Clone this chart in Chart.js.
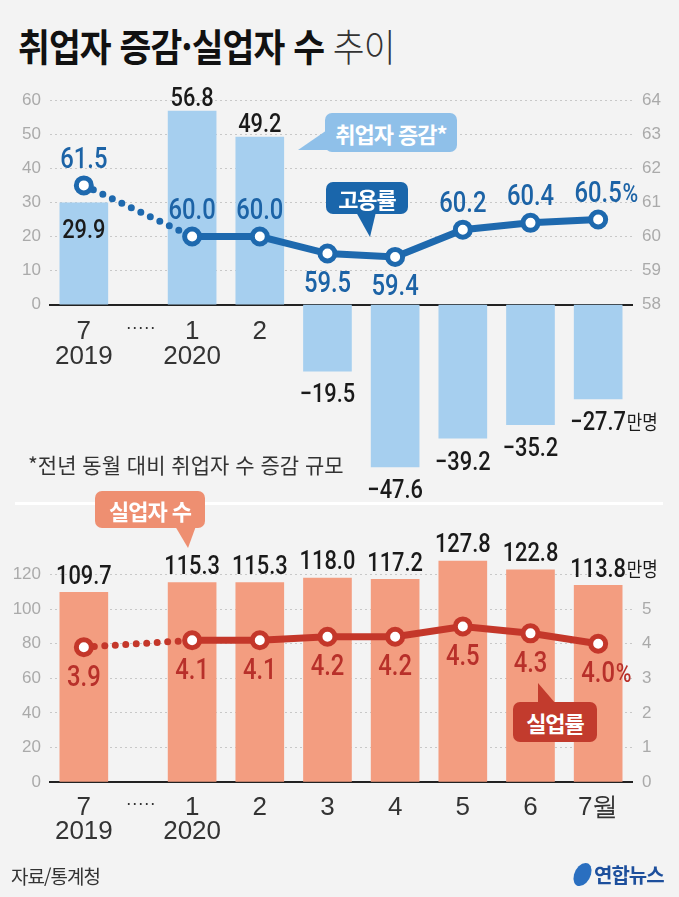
<!DOCTYPE html>
<html lang="ko">
<head>
<meta charset="utf-8">
<script src="https://cdn.jsdelivr.net/npm/chart.js@4.4.1/dist/chart.umd.min.js"></script>
<style>
  html, body { margin: 0; padding: 0; }
  body {
    width: 679px; height: 897px; position: relative; overflow: hidden;
    background: #f3f3f3; font-family: 'Noto Sans CJK KR', sans-serif;
  }
  .title {
    position: absolute; left: 18px; top: 19px; font-size: 38px; line-height: 52px;
    color: #111; white-space: nowrap; letter-spacing: -1px;
    transform: scaleX(0.91); transform-origin: left center;
  }
  .title b { font-weight: 700; }
  .title span { font-weight: 300; color: #333; }
  canvas { position: absolute; left: 0; }
  #top-chart { top: 80px; }
  #bottom-chart { top: 484px; }
  .sep { position: absolute; left: 15px; top: 502px; width: 648px; height: 3px; background: #fff; }
  .bubble {
    position: absolute; color: #fff; font-weight: 700; font-size: 22px; letter-spacing: -1px;
    display: flex; align-items: center; justify-content: center; border-radius: 7px; z-index: 2;
  }
  .tail { position: absolute; z-index: 2; }
  .note { position: absolute; left: 28px; top: 449px; font-size: 21px; color: #333; white-space: nowrap; }
  .source { position: absolute; left: 11px; top: 862px; font-size: 19px; color: #333; letter-spacing: -1px; }
  .logo { position: absolute; left: 574px; top: 860px; display: flex; align-items: center; }
  .logo i { display: block; width: 17px; height: 23px; border-radius: 50%; background: #2a6fc0; transform: skewX(-15deg); margin-right: 3px; }
  .logo span { font-size: 20px; font-weight: 700; color: #1d4f9c; letter-spacing: -1px; }
</style>
</head>
<body>
<div class="title"><b>취업자 증감·실업자 수</b> <span>추이</span></div>

<canvas id="top-chart" width="679" height="420"></canvas>
<div class="sep"></div>
<canvas id="bottom-chart" width="679" height="380"></canvas>

<div class="tail" style="left:298px;top:128px;width:32px;height:22px;background:#8fc0e9;clip-path:polygon(100% 0,100% 100%,0 100%);"></div>
<div class="bubble" style="left:325px;top:113px;width:132px;height:39px;background:#8fc0e9;">취업자 증감*</div>

<div class="tail" style="left:356px;top:212px;width:20px;height:25px;background:#1a66ab;clip-path:polygon(0 0,100% 0,70% 100%);"></div>
<div class="bubble" style="left:326px;top:182px;width:82px;height:32px;background:#1a66ab;">고용률</div>

<div class="tail" style="left:175px;top:526px;width:21px;height:22px;background:#ee8f71;clip-path:polygon(0 0,100% 0,62% 100%);"></div>
<div class="bubble" style="left:95px;top:491px;width:110px;height:37px;background:#ee8f71;">실업자 수</div>

<div class="tail" style="left:538px;top:683px;width:18px;height:21px;background:#c23b2d;clip-path:polygon(0 0,100% 100%,0 100%);"></div>
<div class="bubble" style="left:513px;top:702px;width:84px;height:40px;background:#c23b2d;">실업률</div>

<div class="note">*전년 동월 대비 취업자 수 증감 규모</div>
<div class="source">자료/통계청</div>
<div class="logo"><i></i><span>연합뉴스</span></div>

<script>
// months: 2019-07, then 2020-01 ~ 2020-07 (gap between first two slots is wider)
const SLOTS = [0, 1.6, 2.6, 3.6, 4.6, 5.6, 6.6, 7.6];
const TICK_POS = [0, 0.84, 1.6, 2.6, 3.6, 4.6, 5.6, 6.6, 7.6];
const TICK_LABELS = [['7', '2019'], '·····', ['1', '2020'], '2', '3', '4', '5', '6', '7월'];

const JOB_CHANGE = [29.9, 56.8, 49.2, -19.5, -47.6, -39.2, -35.2, -27.7];   // 만명
const EMP_RATE = [61.5, 60.0, 60.0, 59.5, 59.4, 60.2, 60.4, 60.5];         // %
const UNEMPLOYED = [109.7, 115.3, 115.3, 118.0, 117.2, 127.8, 122.8, 113.8]; // 만명
const UNEMP_RATE = [3.9, 4.1, 4.1, 4.2, 4.2, 4.5, 4.3, 4.0];               // %

const NUM_FONT = "'Liberation Sans', Arial, sans-serif";
const LABEL_FONT = "Roboto, 'Liberation Sans', sans-serif";
const KR_FONT = "'Noto Sans CJK KR', sans-serif";

const points = values => values.map((y, i) => ({ x: SLOTS[i], y }));

function fmtNum(v) {
  return v < 0 ? '\u2212' + Math.abs(v).toFixed(1) : v.toFixed(1);
}

// number centred on x, squeezed sideways like the condensed newsroom font,
// with an optional unit hanging off its right side
function drawValue(ctx, v, x, cy, color, size, sx, unit, unitFont) {
  const text = fmtNum(v);
  ctx.save();
  ctx.translate(x, cy + size * 0.36);
  ctx.scale(sx, 1);
  ctx.font = `500 ${size}px ${LABEL_FONT}`;
  ctx.fillStyle = color;
  ctx.textAlign = 'center';
  ctx.textBaseline = 'alphabetic';
  ctx.fillText(text, 0, 0);
  if (unit) {
    const w = ctx.measureText(text).width;
    ctx.font = unitFont;
    ctx.textAlign = 'left';
    ctx.fillText(unit, w / 2 + 1, 0);
  }
  ctx.restore();
}

const valueLabels = {
  id: 'valueLabels',
  afterDraw(chart, args, opts) {
    const ctx = chart.ctx;
    const barMeta = chart.getDatasetMeta(1);
    const lineMeta = chart.getDatasetMeta(0);
    const barVals = chart.data.datasets[1].data;
    const lineVals = chart.data.datasets[0].data;
    const last = barVals.length - 1;

    barMeta.data.forEach((el, i) => {
      const v = barVals[i].y;
      let cy;
      if (opts.barInside.includes(i)) cy = el.y + 26;
      else cy = v < 0 ? el.y + 22 : el.y - opts.barGap;
      drawValue(ctx, v, el.x, cy, '#1a1a1a', 26, 0.84,
        i === last ? '만명' : null, `20px ${KR_FONT}`);
    });

    lineMeta.data.forEach((el, i) => {
      const v = lineVals[i].y;
      const cy = opts.lineBelow.includes(i) ? el.y + 28 : el.y - 28;
      drawValue(ctx, v, el.x, cy, opts.lineLabel, 29, 0.82,
        i === last ? '%' : null, `500 26px ${LABEL_FONT}`);
    });
  }
};

function lineSet(values, color) {
  return {
    type: 'line',
    data: points(values),
    yAxisID: 'y1',
    order: 0,
    borderColor: color,
    borderWidth: 7,
    borderCapStyle: 'round',
    tension: 0,
    pointRadius: 7.5,
    pointBorderWidth: 5,
    pointBorderColor: color,
    pointBackgroundColor: '#ffffff',
    segment: { borderDash: c => c.p0DataIndex === 0 ? [0, 10.5] : undefined },
  };
}

function barSet(values, color) {
  return {
    type: 'bar',
    data: points(values),
    yAxisID: 'y',
    order: 1,
    backgroundColor: color,
    barThickness: 48,
  };
}

function xScale(pad) {
  return {
    type: 'linear',
    position: { y: 0 },
    min: -0.5, max: 8.1,
    offset: false,
    z: 1,
    grid: { display: false, offset: false },
    border: { color: '#222', width: 2 },
    afterBuildTicks: s => { s.ticks = TICK_POS.map(value => ({ value })); },
    ticks: {
      autoSkip: false, maxRotation: 0, padding: pad,
      color: '#333',
      font: c => ({ family: NUM_FONT, size: c.index === 1 ? 18 : 26, lineHeight: 0.95 }),
      callback: (v, i) => TICK_LABELS[i],
    },
  };
}

function yLeft(min, max, step, top) {
  return {
    position: 'left', min, max,
    afterFit: s => { s.width = 50; },
    border: { display: false, dash: [2, 3] },
    grid: { drawTicks: false, color: c => (c.tick.value > 0 && c.tick.value <= top) ? '#c8c8c8' : 'transparent' },
    ticks: {
      stepSize: step, padding: 9, color: '#aaa',
      font: { family: NUM_FONT, size: 17 },
      callback: v => (v >= 0 && v <= top) ? v : '',
    },
  };
}

function yRight(min, max, lo, hi) {
  return {
    position: 'right', min, max,
    afterFit: s => { s.width = 47; },
    border: { display: false },
    grid: { drawOnChartArea: false, drawTicks: false },
    ticks: {
      stepSize: 1, padding: 10, color: '#aaa',
      font: { family: NUM_FONT, size: 17 },
      callback: v => (v >= lo && v <= hi) ? v : '',
    },
  };
}

const common = {
  responsive: false,
  animation: false,
  events: [],
  plugins: { legend: { display: false }, tooltip: { enabled: false } },
};

new Chart(document.getElementById('top-chart'), {
  data: { datasets: [lineSet(EMP_RATE, '#1e69ae'), barSet(JOB_CHANGE, '#a6cfef')] },
  plugins: [valueLabels],
  options: {
    ...common,
    layout: { padding: { top: 17, bottom: 25, left: 0, right: 0 } },
    plugins: {
      ...common.plugins,
      valueLabels: { barInside: [0], barGap: 14, lineBelow: [3, 4], lineLabel: '#1c63a6' },
    },
    scales: {
      x: xScale(7),
      y: yLeft(-50, 60, 10, 60),
      y1: yRight(53, 64, 58, 64),
    },
  },
});

new Chart(document.getElementById('bottom-chart'), {
  data: { datasets: [lineSet(UNEMP_RATE, '#c4372a'), barSet(UNEMPLOYED, '#f39d80')] },
  plugins: [valueLabels],
  options: {
    ...common,
    layout: { padding: { top: 56, bottom: 82, left: 0, right: 0 } },
    plugins: {
      ...common.plugins,
      valueLabels: { barInside: [], barGap: 18, lineBelow: [0, 1, 2, 3, 4, 5, 6, 7], lineLabel: '#b8302a' },
    },
    scales: {
      x: xScale(5),
      y: yLeft(0, 140, 20, 120),
      y1: yRight(0, 7, 0, 5),
    },
  },
});
</script>
</body>
</html>
